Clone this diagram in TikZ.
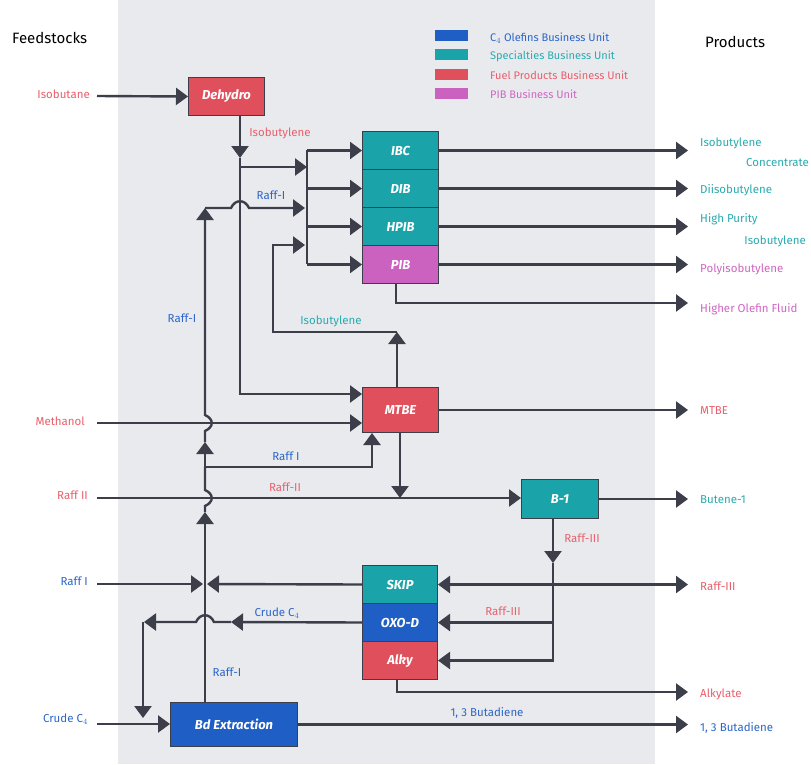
\documentclass[tikz,border=0pt]{standalone}
\usepackage{fontspec}
\setmainfont{Fira Sans}
\usetikzlibrary{arrows.meta}
\definecolor{panel}{HTML}{E8EAEE}
\definecolor{cred}{HTML}{E0505C}
\definecolor{cteal}{HTML}{1AA3A8}
\definecolor{cblue}{HTML}{1F5EC4}
\definecolor{cmag}{HTML}{CC62C0}
\definecolor{lred}{HTML}{E8606C}
\definecolor{lteal}{HTML}{2AABB0}
\definecolor{lblue}{HTML}{2C66C8}
\definecolor{lmag}{HTML}{D066C2}
\definecolor{ln}{HTML}{3C3E4A}
\begin{document}
\begin{tikzpicture}[x=1pt,y=-1pt,
  >={Triangle[length=12pt,width=17pt]},
  flow/.style={draw=ln, line width=2.4pt},
  arr/.style={flow, ->},
  unit/.style={draw=ln, line width=1pt, text=white,
    font=\bfseries\itshape\fontsize{13}{13}\selectfont, inner sep=0pt, anchor=north west},
  lab/.style={font=\fontsize{11.5}{12}\selectfont, inner sep=0pt},
  head/.style={font=\fontsize{15}{15}\selectfont, inner sep=0pt, text=black},
  legtext/.style={font=\fontsize{11}{11}\selectfont, inner sep=0pt, anchor=west},
  legbox/.style={minimum width=33pt, minimum height=11pt, inner sep=0pt, anchor=north west},
]
\useasboundingbox (0,0) rectangle (811,764);
\fill[white] (0,0) rectangle (811,764);
\fill[panel] (118,0) rectangle (655,764);

% headings
\node[head, anchor=west] (feedh) at (12,38) {Feedstocks};
\node[head, anchor=west] (prodh) at (705,42) {Products};

% legend
\node[legbox, fill=cblue] (lg1) at (435,30) {};
\node[legbox, fill=cteal] (lg2) at (435,49) {};
\node[legbox, fill=cred] (lg3) at (435,69) {};
\node[legbox, fill=cmag] (lg4) at (435,88) {};
\node[legtext, text=lblue] (lt1) at (490,38) {C$_4$ Olefins Business Unit};
\node[legtext, text=lteal] (lt2) at (490,56) {Specialties Business Unit};
\node[legtext, text=lred] (lt3) at (490,75) {Fuel Products Business Unit};
\node[legtext, text=lmag] (lt4) at (490,94) {PIB Business Unit};

% units
\node[unit, fill=cred, minimum width=76pt, minimum height=38pt] (dehydro) at (188,77) {Dehydro};
\node[unit, fill=cteal, minimum width=76pt, minimum height=38pt] (ibc) at (362,131) {IBC};
\node[unit, fill=cteal, minimum width=76pt, minimum height=38pt] (dib) at (362,169) {DIB};
\node[unit, fill=cteal, minimum width=76pt, minimum height=38pt] (hpib) at (362,207) {HPIB};
\node[unit, fill=cmag, minimum width=76pt, minimum height=38pt] (pib) at (362,245) {PIB};
\node[unit, fill=cred, minimum width=76pt, minimum height=45pt] (mtbe) at (362,387) {MTBE};
\node[unit, fill=cteal, minimum width=77pt, minimum height=39pt] (b1) at (521,479) {B-1};
\node[unit, fill=cteal, minimum width=75pt, minimum height=38pt] (skip) at (362,565) {SKIP};
\node[unit, fill=cblue, minimum width=75pt, minimum height=38pt] (oxo) at (362,603) {OXO-D};
\node[unit, fill=cred, minimum width=75pt, minimum height=38pt] (alky) at (362,641) {Alky};
\node[unit, fill=cblue, minimum width=127pt, minimum height=44pt] (bd) at (170,702) {Bd Extraction};

% feed labels
\node[lab, text=lred, anchor=east] (isobutane) at (90,94) {Isobutane};
\node[lab, text=lred, anchor=east] (methanol) at (85,421) {Methanol};
\node[lab, text=lred, anchor=east] (raffii) at (88,495) {Raff II};
\node[lab, text=lblue, anchor=east] (raffi) at (88,581) {Raff I};
\node[lab, text=lblue, anchor=east] (crude) at (88,719) {Crude C$_4$};
\coordinate (f1) at (97,96);
\coordinate (f2) at (97,423);
\coordinate (f3) at (97,498);
\coordinate (f4) at (97,584);
\coordinate (f5) at (97,724);
\coordinate (outx) at (688,0);

% product labels
\node[lab, text=lteal, anchor=west] (p1a) at (700,143) {Isobutylene};
\node[lab, text=lteal, anchor=east] (p1b) at (809,163) {Concentrate};
\node[lab, text=lteal, anchor=west] (p2) at (700,190) {Diisobutylene};
\node[lab, text=lteal, anchor=west] (p3a) at (700,219) {High Purity};
\node[lab, text=lteal, anchor=east] (p3b) at (806,241) {Isobutylene};
\node[lab, text=lmag, anchor=west] (p4) at (700,269) {Polyisobutylene};
\node[lab, text=lmag, anchor=west] (p5) at (700,309) {Higher Olefin Fluid};
\node[lab, text=lred, anchor=west] (p6) at (700,411) {MTBE};
\node[lab, text=lteal, anchor=west] (p7) at (700,500) {Butene-1};
\node[lab, text=lred, anchor=west] (p8) at (700,586) {Raff-III};
\node[lab, text=lred, anchor=west] (p9) at (700,694) {Alkylate};
\node[lab, text=lblue, anchor=west] (p10) at (700,728) {1, 3 Butadiene};

% stream labels
\node[lab, text=lred] (l1) at (280,133) {Isobutylene};
\node[lab, text=lblue] (l2) at (271,195) {Raff-I};
\node[lab, text=lblue] (l3) at (182,318) {Raff-I};
\node[lab, text=lteal] (l4) at (331,321) {Isobutylene};
\node[lab, text=lblue] (l5) at (286,456) {Raff I};
\node[lab, text=lred] (l6) at (285,487) {Raff-II};
\node[lab, text=lred] (l7) at (582,538) {Raff-III};
\node[lab, text=lblue] (l8) at (277,613) {Crude C$_4$};
\node[lab, text=lred] (l9) at (503,611) {Raff-III};
\node[lab, text=lblue] (l10) at (227,672) {Raff-I};
\node[lab, text=lblue] (l11) at (487,713) {1, 3 Butadiene};

% ---- connectors ----
\draw[arr] (f1) -- (dehydro.west);
\draw[arr] (240,0 |- dehydro.south) -- (240,158);
\draw[arr] (240,158) -- (240,394) -- (mtbe.west |- 240,394);
\draw[arr] (240,167) -- (307,167);
\draw[flow] (307,150) -- (307,264);
\draw[arr] (307,0 |- ibc.west) -- (ibc.west);
\draw[arr] (307,0 |- dib.west) -- (dib.west);
\draw[arr] (307,0 |- hpib.west) -- (hpib.west);
\draw[arr] (307,0 |- pib.west) -- (pib.west);
\draw[flow] (205,0 |- bd.north) -- (205,584);
\draw[arr] (f4) -- (203,584);
\draw[arr] (skip.west) -- (207,584);
\draw[arr] (205,584) -- (205,512);
\draw[flow] (205,512) -- (205,506) .. controls (214,502) and (214,494) .. (205,490) -- (205,467);
\draw[arr] (205,467) -- (205,442);
\draw[arr] (205,442) -- (205,431) .. controls (214,427) and (214,419) .. (205,415) -- (205,208);
\draw[arr] (205,208) -- (231,208) .. controls (235,199) and (245,199) .. (249,208) -- (305,208);
\draw[arr] (205,467) -- (372,467) -- (372,0 |- mtbe.south);
\draw[arr] (f2) -- (mtbe.west |- f2);
\draw[arr] (400,0 |- mtbe.south) -- (400,498);
\draw[arr] (f3) -- (b1.west |- f3);
\draw[arr] (397,0 |- mtbe.north) -- (397,332);
\draw[arr] (397,332) -- (273,332) -- (273,245) -- (305,245);
\draw[arr] (ibc.east) -- (ibc.east -| outx);
\draw[arr] (dib.east) -- (dib.east -| outx);
\draw[arr] (hpib.east) -- (hpib.east -| outx);
\draw[arr] (pib.east) -- (pib.east -| outx);
\draw[arr] (396,0 |- pib.south) -- (396,303) -- (688,303);
\draw[arr] (mtbe.east) -- (mtbe.east -| outx);
\draw[arr] (b1.east) -- (b1.east -| outx);
\draw[arr] (553,0 |- b1.south) -- (553,563);
\draw[flow, <->] (skip.east) -- (skip.east -| outx);
\draw[arr] (553,563) -- (553,0 |- alky.east) -- (alky.east);
\draw[arr] (553,0 |- oxo.east) -- (oxo.east);
\draw[arr] (397,0 |- alky.south) -- (397,692) -- (688,692);
\draw[arr] (bd.east) -- (bd.east -| outx);
\draw[arr] (f5) -- (bd.west |- f5);
\draw[arr] (oxo.west) -- (231,622);
\draw[arr] (231,622) -- (214,622) .. controls (210,613) and (200,613) .. (196,622) -- (144,622);
\draw[arr] (143,622) -- (143,718);
\end{tikzpicture}
\end{document}
